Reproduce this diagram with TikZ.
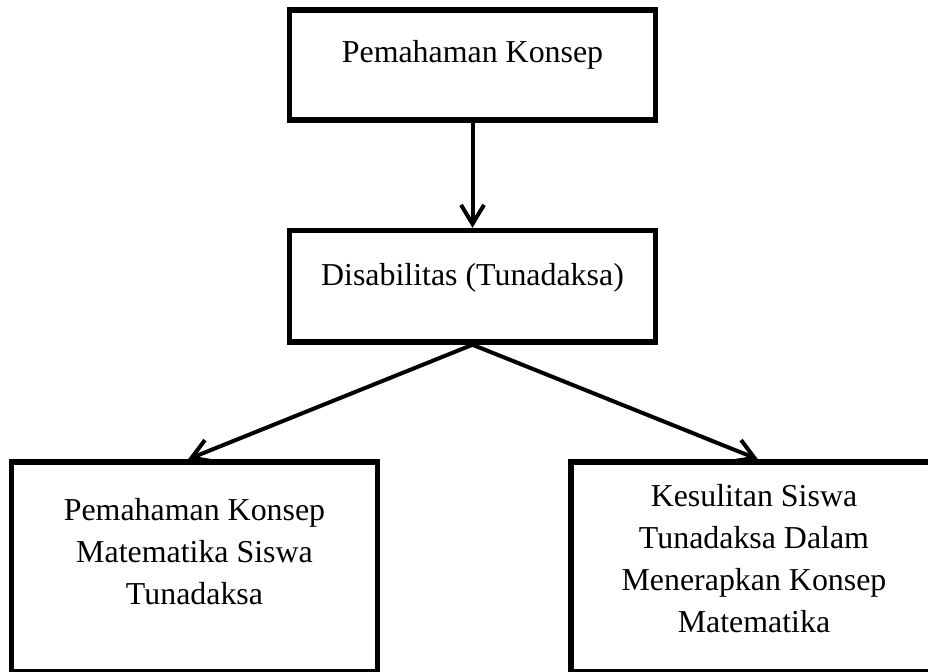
\documentclass[tikz,border=0pt]{standalone}
\usepackage{fontspec}
\setmainfont{Liberation Serif}
\usetikzlibrary{positioning,arrows.meta}

\tikzset{
  kotak/.style={draw, line width=0.11cm, minimum width=7.32cm, inner sep=0pt},
  teks/.style={align=center, inner sep=0pt, font=\fontsize{18.15}{23.9}\selectfont},
  panah/.style={-{Straight Barb[length=0.38cm,width=0.46cm]}, line width=0.08cm},
}

\begin{document}
\begin{tikzpicture}
		\useasboundingbox (0,0) rectangle (18.56,-13.42);
		\clip (0,0) rectangle (18.56,-13.42);
		\node[kotak, minimum height=2.2cm] (konsep) at (9.45,-1.30) {};
		\node[kotak, minimum height=2.23cm, below=2.1cm of konsep] (disab) {};
		\node[kotak, minimum height=4.2cm] (mtk) at (3.89,-11.34) {};
		\node[kotak, minimum height=4.2cm] (sulit) at (15.08,-11.34) {};
		%
		\node[teks, below=0.66cm of konsep.north] (konsep-t) {Pemahaman Konsep};
		\node[teks, below=0.71cm of disab.north] (disab-t) {Disabilitas (Tunadaksa)};
		\node[teks, below=0.78cm of mtk.north] (mtk-t) {Pemahaman Konsep\\ Matematika Siswa\\ Tunadaksa};
		\node[teks, below=0.50cm of sulit.north] (sulit-t) {Kesulitan Siswa\\ Tunadaksa Dalam\\ Menerapkan Konsep\\ Matematika};
		%
		\draw[panah] (konsep) -- (disab);
		\draw[panah] (disab.south) -- ([xshift=-0.13cm]mtk.north);
		\draw[panah] (disab.south) -- ([xshift=0.08cm]sulit.north);
\end{tikzpicture}
\end{document}
